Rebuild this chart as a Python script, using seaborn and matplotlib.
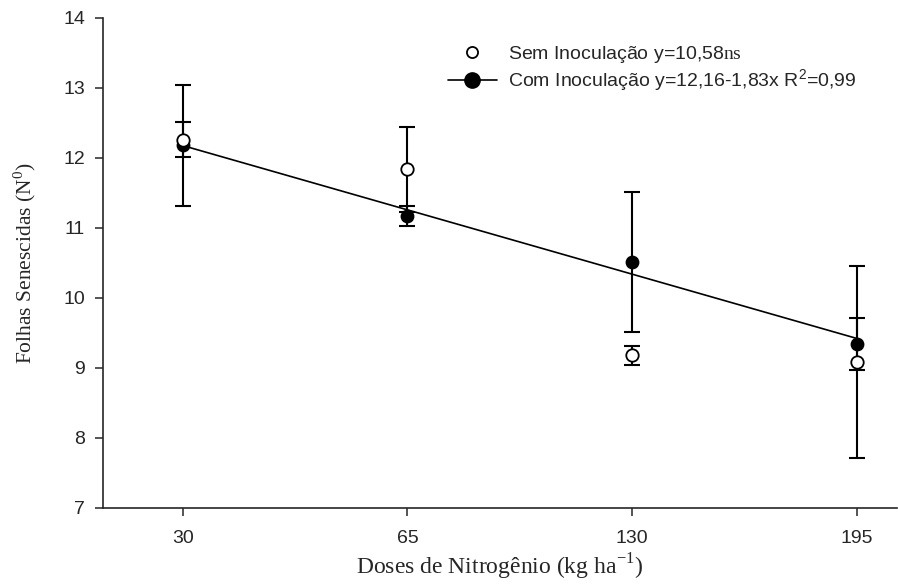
import numpy as np
import pandas as pd
import matplotlib
matplotlib.use("Agg")
import matplotlib.pyplot as plt
from matplotlib.lines import Line2D
import seaborn as sns

# Data
doses = ["30", "65", "130", "195"]
sem_mean = [12.26, 11.84, 9.18, 9.09]
sem_err = [0.25, 0.61, 0.14, 1.37]
com_mean = [12.18, 11.17, 10.51, 9.34]
com_err = [0.87, 0.14, 1.00, 0.37]

pos = np.arange(len(doses))
df = pd.DataFrame({"pos": pos, "sem": sem_mean, "com": com_mean})

sns.set_style("ticks")
plt.rcParams["font.family"] = ["Liberation Sans", "DejaVu Sans"]
plt.rcParams["mathtext.fontset"] = "custom"
plt.rcParams["mathtext.rm"] = "Liberation Serif"
plt.rcParams["mathtext.sf"] = "Liberation Sans"

fig = plt.figure(figsize=(8.98, 5.86), dpi=100)
ax = fig.add_axes([103/898, 1-508/586, 794/898, 490/586])

# error bars
ax.errorbar(pos, com_mean, yerr=com_err, fmt="none", ecolor="black",
            elinewidth=1.5, capsize=5.8, capthick=1.5, zorder=2)
ax.errorbar(pos, sem_mean, yerr=sem_err, fmt="none", ecolor="black",
            elinewidth=1.5, capsize=5.8, capthick=1.5, zorder=2)

# linear fit of the inoculated series
sns.regplot(data=df, x="pos", y="com", ci=None, scatter=False, ax=ax,
            line_kws={"color": "black", "lw": 1.2, "zorder": 3})

sns.scatterplot(data=df, x="pos", y="com", ax=ax, color="black", s=80,
                edgecolor="black", linewidth=1, zorder=4)
sns.scatterplot(data=df, x="pos", y="sem", ax=ax, color="white", s=80,
                edgecolor="black", linewidth=1.3, zorder=5)

ax.set_xlim(-0.356, 3.18)
ax.set_ylim(7, 14)
ax.set_xticks(pos)
ax.set_xticklabels(doses)
ax.set_yticks(range(7, 15))
ax.tick_params(direction="out", length=6, width=1.1, labelsize=14, pad=7)
ax.tick_params(axis="x", pad=10)
for s in ["top", "right"]:
    ax.spines[s].set_visible(False)
for s in ["left", "bottom"]:
    ax.spines[s].set_linewidth(1.2)

ax.set_xlabel(r"Doses de Nitrogênio (kg ha$^{\mathrm{-1}}$)",
              family="Liberation Serif", fontsize=17, va="center")
ax.set_ylabel(r"Folhas Senescidas (N$^{\mathrm{0}}$)",
              family="Liberation Serif", fontsize=15.5, va="center")
ax.xaxis.set_label_coords(0.5, (508 - 567) / 490)
ax.yaxis.set_label_coords((25 - 103) / 794, 0.5)

handles = [
    Line2D([], [], ls="none", marker="o", markersize=8, markerfacecolor="white",
           markeredgecolor="black", markeredgewidth=1.3),
    Line2D([], [], color="black", lw=1.2, marker="o", markersize=11,
           markerfacecolor="black", markeredgecolor="black"),
]
labels = [
    r"Sem Inoculação y=10,58$\mathrm{ns}$",
    r"Com Inoculação y=12,16-1,83x R$^{\mathsf{2}}$=0,99",
]
ax.legend(handles, labels, loc="upper left", frameon=False, fontsize=14,
          bbox_to_anchor=(448/898, 1-44/586), bbox_transform=fig.transFigure,
          borderpad=0, borderaxespad=0, handlelength=2.5, handletextpad=0.6,
          labelspacing=0.1)

fig.savefig("out.png", dpi=100)
